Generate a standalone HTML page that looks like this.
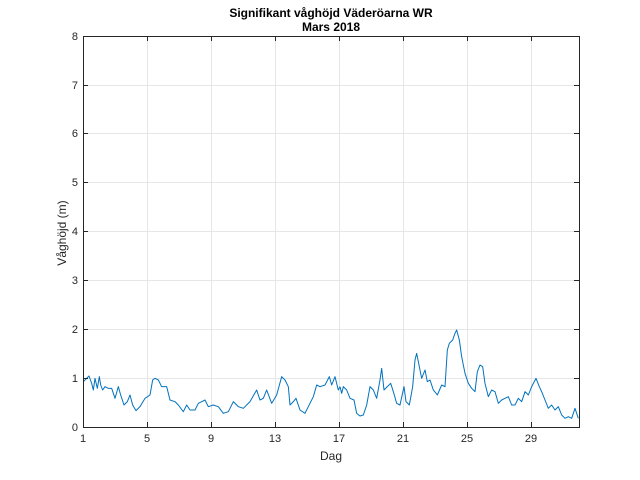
<!DOCTYPE html>
<html><head><meta charset="utf-8"><style>body{margin:0;background:#fff}svg{display:block}</style></head><body>
<svg width="640" height="480" xmlns="http://www.w3.org/2000/svg" font-family="Liberation Sans, Arial, sans-serif">
<rect width="640" height="480" fill="#fff"/>
<g stroke="#e6e6e6" stroke-width="1">
<line x1="147.5" y1="36" x2="147.5" y2="427"/><line x1="211.5" y1="36" x2="211.5" y2="427"/><line x1="275.5" y1="36" x2="275.5" y2="427"/><line x1="339.5" y1="36" x2="339.5" y2="427"/><line x1="403.5" y1="36" x2="403.5" y2="427"/><line x1="467.5" y1="36" x2="467.5" y2="427"/><line x1="531.5" y1="36" x2="531.5" y2="427"/>
<line x1="83" y1="378.5" x2="579" y2="378.5"/><line x1="83" y1="329.5" x2="579" y2="329.5"/><line x1="83" y1="280.5" x2="579" y2="280.5"/><line x1="83" y1="231.5" x2="579" y2="231.5"/><line x1="83" y1="182.5" x2="579" y2="182.5"/><line x1="83" y1="133.5" x2="579" y2="133.5"/><line x1="83" y1="85.5" x2="579" y2="85.5"/>
</g>
<g fill="none" stroke="#0072bd" stroke-width="1" stroke-linejoin="round">
<polyline vector-effect="non-scaling-stroke" transform="translate(80,320) scale(0.33333)" points="10,185 27,168 35,190 40,210 45,175 52,205 58,170 62,195 68,210 75,200 85,205 95,205 105,235 115,200 122,225 132,255 142,245 150,225 158,255 168,272 180,260 195,235 210,225 218,180 225,175 235,180 245,200 260,200 270,240 285,245 295,255 310,275 320,255 330,270 345,270 355,250 365,245 375,240 385,260 400,255 415,260 430,280 445,275 460,245 475,260 490,265 510,245 530,210 540,240 550,235 560,210 575,250 590,225 605,170 615,180 625,200 630,255 640,245 648,235 660,270 675,280 690,250 700,230 710,195 720,200 735,195 748,170 755,195 765,170 775,210 780,200"/>
<polyline vector-effect="non-scaling-stroke" transform="translate(330,320) scale(0.33333)" points="30,200 35,220 40,200 50,210 60,235 72,240 80,280 90,288 100,285 110,255 120,200 130,210 140,235 150,180 155,145 162,210 172,200 182,190 190,215 200,250 210,255 222,200 228,245 238,255 248,200 255,120 260,100 268,140 275,175 285,150 292,185 300,180 310,210 322,225 335,195 345,200 352,90 358,70 368,60 375,40 380,30 388,60 395,110 405,160 415,190 425,205 435,215 442,155 450,135 458,140 465,190 475,230 485,210 495,215 505,250 515,240 525,235 535,230 545,255 555,255 565,235 575,245 585,215 595,225 605,200 618,175 628,200 635,215 645,240 655,265 665,255 675,270 685,260 695,285 705,295 715,290 725,295 735,265 745,295"/>
</g>
<rect x="83.5" y="36.5" width="496" height="391" fill="none" stroke="#262626" stroke-width="1"/>
<g stroke="#262626" stroke-width="1">
<line x1="147.5" y1="427" x2="147.5" y2="422"/><line x1="211.5" y1="427" x2="211.5" y2="422"/><line x1="275.5" y1="427" x2="275.5" y2="422"/><line x1="339.5" y1="427" x2="339.5" y2="422"/><line x1="403.5" y1="427" x2="403.5" y2="422"/><line x1="467.5" y1="427" x2="467.5" y2="422"/><line x1="531.5" y1="427" x2="531.5" y2="422"/>
<line x1="147.5" y1="36" x2="147.5" y2="41"/><line x1="211.5" y1="36" x2="211.5" y2="41"/><line x1="275.5" y1="36" x2="275.5" y2="41"/><line x1="339.5" y1="36" x2="339.5" y2="41"/><line x1="403.5" y1="36" x2="403.5" y2="41"/><line x1="467.5" y1="36" x2="467.5" y2="41"/><line x1="531.5" y1="36" x2="531.5" y2="41"/>
<line x1="83" y1="378.5" x2="88" y2="378.5"/><line x1="83" y1="329.5" x2="88" y2="329.5"/><line x1="83" y1="280.5" x2="88" y2="280.5"/><line x1="83" y1="231.5" x2="88" y2="231.5"/><line x1="83" y1="182.5" x2="88" y2="182.5"/><line x1="83" y1="133.5" x2="88" y2="133.5"/><line x1="83" y1="85.5" x2="88" y2="85.5"/>
<line x1="579" y1="378.5" x2="574" y2="378.5"/><line x1="579" y1="329.5" x2="574" y2="329.5"/><line x1="579" y1="280.5" x2="574" y2="280.5"/><line x1="579" y1="231.5" x2="574" y2="231.5"/><line x1="579" y1="182.5" x2="574" y2="182.5"/><line x1="579" y1="133.5" x2="574" y2="133.5"/><line x1="579" y1="85.5" x2="574" y2="85.5"/>
</g>
<g font-size="11" fill="#262626" text-anchor="end">
<text x="78" y="431">0</text><text x="78" y="382">1</text><text x="78" y="333">2</text><text x="78" y="284">3</text><text x="78" y="235">4</text><text x="78" y="186">5</text><text x="78" y="137">6</text><text x="78" y="89">7</text><text x="78" y="40">8</text>
</g>
<g font-size="11" fill="#262626" text-anchor="middle">
<text x="83" y="442">1</text><text x="147" y="442">5</text><text x="211" y="442">9</text><text x="275" y="442">13</text><text x="339" y="442">17</text><text x="403" y="442">21</text><text x="467" y="442">25</text><text x="531" y="442">29</text>
</g>
<text x="331" y="460" font-size="12" text-anchor="middle" fill="#262626">Dag</text>
<text transform="translate(66,233) rotate(-90)" font-size="12" text-anchor="middle" fill="#262626">Våghöjd (m)</text>
<text x="331" y="17" font-size="12" font-weight="bold" text-anchor="middle" fill="#000">Signifikant våghöjd Väderöarna WR</text>
<text x="331" y="31" font-size="12" font-weight="bold" text-anchor="middle" fill="#000">Mars 2018</text>
</svg>
</body></html>
